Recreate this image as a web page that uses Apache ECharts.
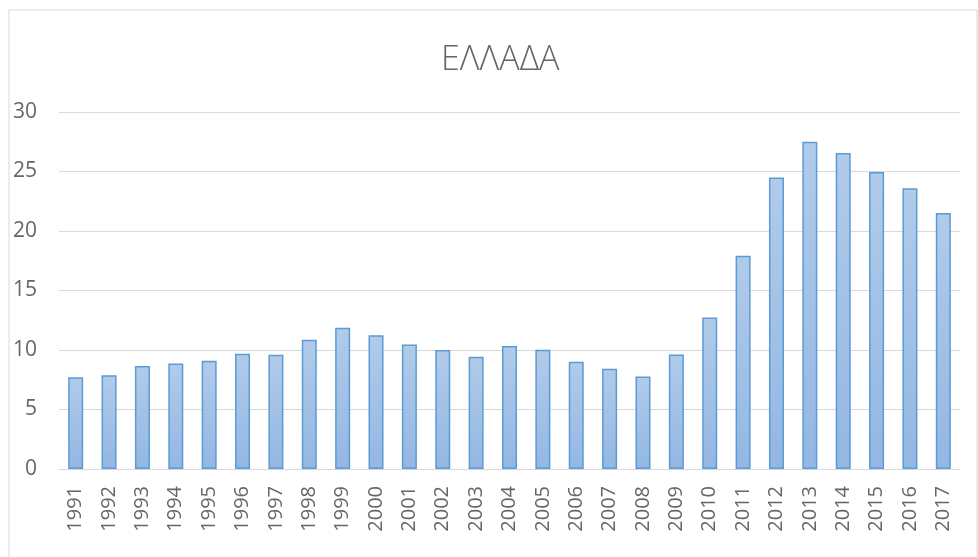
<!DOCTYPE html>
<html>
<head>
<meta charset="utf-8">
<script src="https://cdn.jsdelivr.net/npm/echarts@6/dist/echarts.min.js"></script>
<style>
  html, body { margin: 0; padding: 0; background: #fff; }
  #main { width: 978px; height: 557px; }
</style>
</head>
<body>
<div id="main"></div>
<script>
var years = ['1991','1992','1993','1994','1995','1996','1997','1998','1999','2000',
  '2001','2002','2003','2004','2005','2006','2007','2008','2009','2010',
  '2011','2012','2013','2014','2015','2016','2017'];
var values = [7.7, 7.87, 8.65, 8.87, 9.09, 9.68, 9.6, 10.86, 11.87, 11.25,
  10.47, 9.99, 9.43, 10.33, 10.02, 9.01, 8.42, 7.78, 9.63, 12.74,
  17.91, 24.49, 27.51, 26.56, 24.96, 23.59, 21.52];

var myChart = echarts.init(document.getElementById('main'));
var font = '"Open Sans", "DejaVu Sans", sans-serif';

var option = {
  animation: false,
  backgroundColor: '#fff',
  title: {
    text: 'ΕΛΛΑΔΑ',
    left: 436,
    top: 38,
    textStyle: { color: '#666666', fontSize: 34, fontWeight: 300, fontFamily: font }
  },
  graphic: [{
    type: 'rect',
    shape: { x: 9, y: 10, width: 968, height: 560 },
    style: { fill: 'none', stroke: '#d9d9d9', lineWidth: 1 },
    silent: true
  }],
  grid: { left: 59, right: 18, top: 112, bottom: 88 },
  xAxis: {
    type: 'category',
    data: years,
    axisLine: { lineStyle: { color: '#d9d9d9' } },
    axisTick: { show: false },
    axisLabel: { rotate: 90, color: '#666666', fontSize: 20, fontFamily: font, margin: 17 }
  },
  yAxis: {
    type: 'value',
    min: 0,
    max: 30,
    interval: 5,
    axisLine: { show: false },
    axisTick: { show: false },
    splitLine: { lineStyle: { color: '#d9d9d9', width: 1 } },
    axisLabel: { color: '#666666', fontSize: 21, fontFamily: font, margin: 22 }
  },
  series: [{
    type: 'bar',
    data: values,
    barWidth: '45%',
    itemStyle: {
      color: new echarts.graphic.LinearGradient(0, 0, 0, 1, [
        { offset: 0, color: '#b1cbea' },
        { offset: 1, color: '#93b7e3' }
      ]),
      borderColor: '#5b9bd5',
      borderWidth: 1.5
    }
  }]
};
myChart.setOption(option);
</script>
</body>
</html>
